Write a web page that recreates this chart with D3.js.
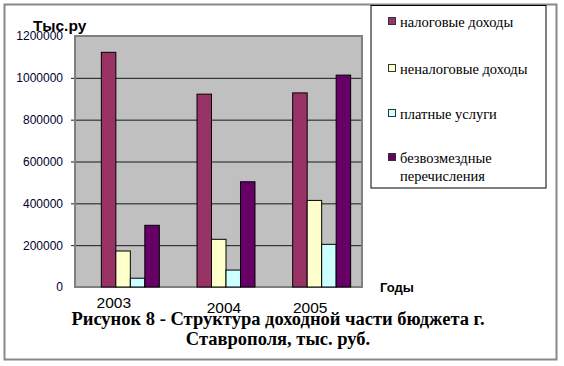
<!DOCTYPE html>
<html><head><meta charset="utf-8">
<script src="https://cdn.jsdelivr.net/npm/d3@7"></script>
<style>body{margin:0;background:#fff}svg{display:block}</style>
</head><body>
<svg id="c" width="564" height="366"></svg>
<script>
const years = ["2003", "2004", "2005"];
const seriesNames = ["налоговые доходы", "неналоговые доходы", "платные услуги", "безвозмездные перечисления"];
const taxIncome = [1122000, 922000, 928000];
const nonTaxIncome = [172000, 228000, 414000];
const paidServices = [42000, 81000, 204000];
const transfers = [295000, 503000, 1013000];
const yTicks = [0, 200000, 400000, 600000, 800000, 1000000, 1200000];
const colors = ["#993366", "#FFFFCC", "#CCFFFF", "#660066"];
const seriesValues = [taxIncome, nonTaxIncome, paidServices, transfers];

const SERIF = "'Liberation Serif','Times New Roman',serif";
const SANS = "'Liberation Sans',Arial,sans-serif";

const svg = d3.select("#c");
// outer frame
svg.append("rect").attr("x",4.5).attr("y",4.5).attr("width",552).attr("height",355)
  .attr("fill","none").attr("stroke","#888").attr("stroke-width",2);

const plot = {l:75, r:362, t:36, b:287};
const y = d3.scaleLinear().domain([0,1200000]).range([plot.b, plot.t]);
const x0 = d3.scaleBand().domain(years).range([plot.l+7, plot.r+7]).paddingInner(0.394).paddingOuter(0.197);
const x1 = d3.scaleBand().domain(d3.range(4)).range([0, x0.bandwidth()]);

svg.append("rect").attr("x",plot.l).attr("y",plot.t).attr("width",plot.r-plot.l).attr("height",plot.b-plot.t)
  .attr("fill","#C0C0C0");
// gridlines + ticks
const yAxis = d3.axisLeft(y).tickValues(yTicks).tickSize(-(plot.r-plot.l+4)).tickPadding(8).tickFormat(d3.format("d"));
const ga = svg.append("g").attr("transform",`translate(${plot.l-4},0)`).call(yAxis);
ga.select(".domain").remove();
ga.selectAll(".tick line").attr("stroke","#1a1a1a").attr("stroke-width",1);
ga.selectAll(".tick text").attr("font-family",SANS).attr("font-size","12px").attr("fill","#000030");
ga.selectAll(".tick").filter(d=>d===0||d===1200000).select("line").attr("stroke","none");
// plot border
svg.append("rect").attr("x",plot.l).attr("y",plot.t).attr("width",plot.r-plot.l).attr("height",plot.b-plot.t)
  .attr("fill","none").attr("stroke","#808080").attr("stroke-width",2);

// bars
years.forEach((yr,i)=>{
  const g = svg.append("g").attr("transform",`translate(${x0(yr)},0)`);
  g.selectAll("rect").data(seriesValues.map((s,k)=>({k, v:s[i]}))).join("rect")
    .attr("x",d=>x1(d.k)+0.5).attr("width",x1.bandwidth())
    .attr("y",d=>y(d.v)).attr("height",d=>plot.b-y(d.v))
    .attr("fill",d=>colors[d.k]).attr("stroke","#000").attr("stroke-width",1);
});

// x labels
const xLabelShift = [-9, 5.5, -4];
const xLabelY = [308, 313, 313];
const xc = d3.scaleBand().domain(years).range([plot.l, plot.r]);
svg.append("g").selectAll("text").data(years).join("text")
  .attr("x",(d,i)=>xc(d)+xc.bandwidth()/2+xLabelShift[i]).attr("y",(d,i)=>xLabelY[i])
  .attr("text-anchor","middle").attr("font-family",SANS)
  .attr("font-size","15.5px").attr("fill","#000").text(d=>d);

// axis titles
svg.append("text").attr("x",33).attr("y",31).attr("font-family",SANS)
  .attr("font-weight","bold").attr("font-size","15.5px").text("Тыс.ру");
svg.append("text").attr("x",380).attr("y",292).attr("font-family",SANS)
  .attr("font-weight","bold").attr("font-size","13px").text("Годы");

// legend
svg.append("rect").attr("x",371).attr("y",5.5).attr("width",175).attr("height",182.5)
  .attr("fill","#fff").attr("stroke","#000").attr("stroke-width",1);
const legY = [22, 69, 114, 158];
const lg = svg.append("g").selectAll("g").data(seriesNames).join("g")
  .attr("transform",(d,i)=>`translate(388,${legY[i]})`);
lg.append("rect").attr("x",0.5).attr("y",-4.5).attr("width",7).attr("height",7)
  .attr("fill",(d,i)=>colors[i]).attr("stroke","#333").attr("stroke-width",1);
lg.append("text").attr("x",12).attr("y",5).attr("font-family",SERIF)
  .attr("font-size","14.5px").attr("fill","#000")
  .each(function(d){
    const words = d.split(" ");
    const t = d3.select(this);
    if (d.length > 20) {
      t.append("tspan").attr("x",12).attr("dy",0).text(words[0]);
      t.append("tspan").attr("x",12).attr("dy",18).text(words.slice(1).join(" "));
    } else t.text(d);
  });

// caption
const cap = svg.append("text").attr("text-anchor","middle").attr("font-family",SERIF)
  .attr("font-weight","bold").attr("font-size","18.5px").attr("fill","#000");
cap.append("tspan").attr("x",278).attr("y",325).text("Рисунок 8 - Структура доходной части бюджета г.");
cap.append("tspan").attr("x",278).attr("y",345).text("Ставрополя, тыс. руб.");
</script>
</body></html>
